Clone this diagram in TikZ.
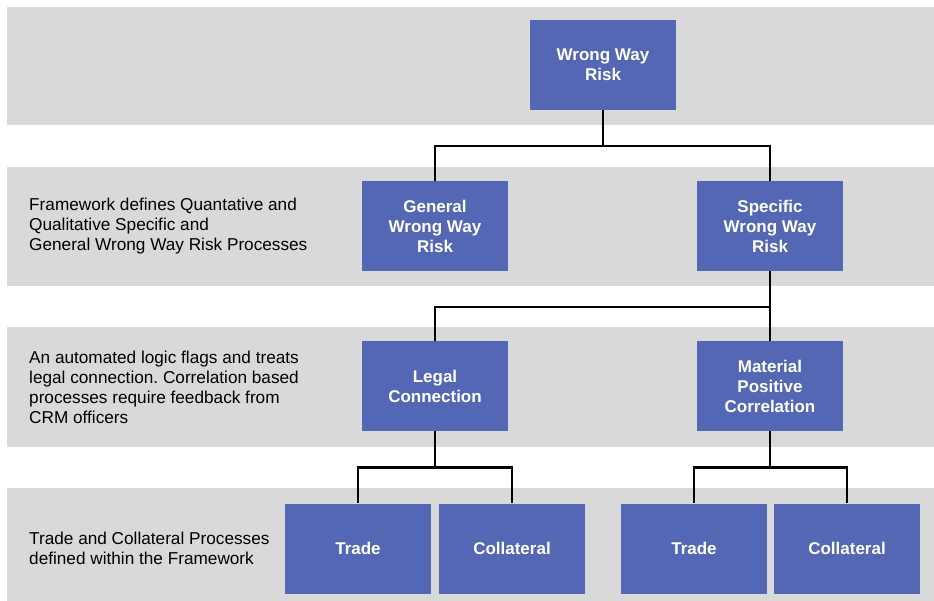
\documentclass[tikz,border=0pt]{standalone}
\usepackage{fontspec}
\setmainfont{Liberation Sans}
\frenchspacing
\definecolor{bandgray}{HTML}{D9D9D9}
\definecolor{boxblue}{HTML}{5467B5}
\tikzset{
  riskbox/.style={fill=boxblue, text=white, font=\bfseries\fontsize{17}{20}\selectfont,
    minimum width=146pt, minimum height=90pt, inner sep=0pt, align=center},
  bandnote/.style={anchor=west, align=left, inner sep=0pt, font=\fontsize{17.2}{20}\selectfont},
  tree/.style={line width=2.6pt}
}
\begin{document}
\begin{tikzpicture}[x=1pt,y=-1pt]
      \useasboundingbox (0,0) rectangle (934,601);
      % bands
      \fill[bandgray] (7,7) rectangle (934,125);
      \fill[bandgray] (7,167) rectangle (934,286);
      \fill[bandgray] (7,327) rectangle (934,447);
      \fill[bandgray] (7,488) rectangle (934,601);
      \draw
        (603,65) node[riskbox] (root){Wrong Way\\Risk}
        (435,226) node[riskbox] (gen){General\\Wrong Way\\Risk}
        (770,226) node[riskbox] (spec){Specific\\Wrong Way\\Risk}
        (435,386) node[riskbox] (legal){Legal\\Connection}
        (770,386) node[riskbox] (mat){Material\\Positive\\Correlation}
        (358,548.5) node[riskbox] (trade1){Trade}
        (512,548.5) node[riskbox] (coll1){Collateral}
        (694,548.5) node[riskbox] (trade2){Trade}
        (847,548.5) node[riskbox] (coll2){Collateral};
      \draw
        (29,226) node[bandnote] (note1){Framework defines Quantative and\\Qualitative Specific and\\General Wrong Way Risk Processes}
        (29,387) node[bandnote] (note2){An automated logic flags and treats\\legal connection. Correlation based\\processes require feedback from\\CRM officers}
        (29,548) node[bandnote] (note3){Trade and Collateral Processes\\defined within the Framework};
      \begin{scope}[tree]
        \draw (root.south) -- ++(0,36) -| (gen.north);
        \draw (root.south) -- ++(0,36) -| (spec.north);
        \draw (spec.south) -- ++(0,36) -| (legal.north);
        \draw (spec.south) -- (mat.north);
        \draw (legal.south) -- ++(0,36) -| (trade1.north);
        \draw (legal.south) -- ++(0,36) -| (coll1.north);
        \draw (mat.south) -- ++(0,36) -| (trade2.north);
        \draw (mat.south) -- ++(0,36) -| (coll2.north);
      \end{scope}
    \end{tikzpicture}
\end{document}
